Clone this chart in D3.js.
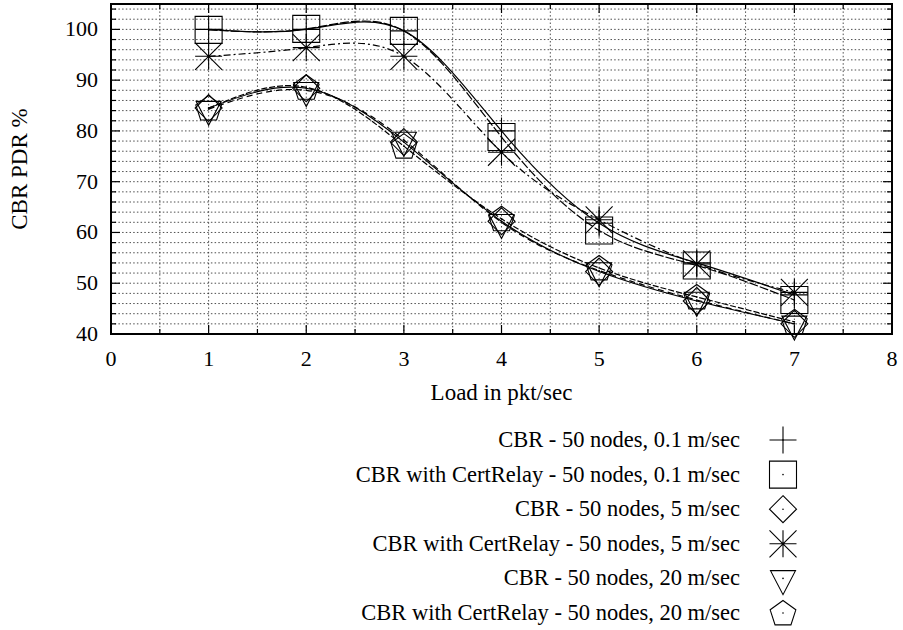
<!DOCTYPE html>
<html lang="en">
<head>
  <meta charset="UTF-8" />
  <title>CBR PDR vs Load</title>
  <style>
    body { margin: 0; background: #fff; }
  </style>
  <script src="https://d3js.org/d3.v7.min.js"></script>
</head>
<body>
  <script>
    // load values (pkt/sec)
    const loads = [1, 2, 3, 4, 5, 6, 7];

    const seriesNames = [
      "CBR - 50 nodes, 0.1 m/sec",
      "CBR with CertRelay - 50 nodes, 0.1 m/sec",
      "CBR - 50 nodes, 5 m/sec",
      "CBR with CertRelay - 50 nodes, 5 m/sec",
      "CBR - 50 nodes, 20 m/sec",
      "CBR with CertRelay - 50 nodes, 20 m/sec"
    ];

    // PDR %
    const cbr01 = [100, 100, 99.7, 80, 61.8, 54, 47.7];
    const cert01 = [99.9, 100.1, 99.7, 78.8, 60.4, 53.5, 46.7];
    const cbr5 = [84.5, 88.4, 77.8, 62.2, 52.3, 46.5, 42];
    const cert5 = [94.7, 96.4, 94.7, 75.8, 62.5, 53.8, 48.2];
    const cbr20 = [84.3, 88, 78.2, 62, 52.5, 46.7, 42];
    const cert20 = [84.5, 88.6, 77, 62.7, 53, 47.3, 42.4];

    const xTicks = [0, 1, 2, 3, 4, 5, 6, 7, 8];
    const yTicks = [40, 50, 60, 70, 80, 90, 100];

    const allSeries = [cbr01, cert01, cbr5, cert5, cbr20, cert20];
    const symbols = ["plus", "square", "diamond", "star", "tridown", "pentagon"];
    const dashes = [null, "9,2", null, "7,3,2,3", "6,4", "6,2"];

    const W = 903, H = 630;
    const plot = { left: 111, right: 892, top: 4, bottom: 334 };
    const FONT = "'Liberation Serif', 'Times New Roman', 'DejaVu Serif', serif";

    const svg = d3.select("body").append("svg")
      .attr("width", W).attr("height", H)
      .attr("font-family", FONT);

    const x = d3.scaleLinear().domain([0, 8]).range([plot.left, plot.right]);
    const y = d3.scaleLinear().domain([40, 105]).range([plot.bottom, plot.top]);

    // grid
    const grid = svg.append("g")
      .attr("stroke", "#222").attr("stroke-width", 0.8)
      .attr("stroke-dasharray", "1.5,2.2");
    d3.range(0.5, 8, 0.5).forEach(v => {
      grid.append("line")
        .attr("x1", x(v)).attr("x2", x(v))
        .attr("y1", plot.top).attr("y2", plot.bottom);
    });
    d3.range(42, 105, 2).forEach(v => {
      grid.append("line")
        .attr("x1", plot.left).attr("x2", plot.right)
        .attr("y1", y(v)).attr("y2", y(v));
    });

    // ticks on all four sides
    const ticks = svg.append("g").attr("stroke", "#000").attr("stroke-width", 1.2);
    d3.range(0, 8.01, 0.5).forEach(v => {
      const len = Number.isInteger(v) ? 9 : 5;
      ticks.append("line").attr("x1", x(v)).attr("x2", x(v))
        .attr("y1", plot.bottom).attr("y2", plot.bottom - len);
      ticks.append("line").attr("x1", x(v)).attr("x2", x(v))
        .attr("y1", plot.top).attr("y2", plot.top + len);
    });
    d3.range(40, 105.01, 2).forEach(v => {
      const len = v % 10 === 0 ? 9 : 5;
      ticks.append("line").attr("y1", y(v)).attr("y2", y(v))
        .attr("x1", plot.left).attr("x2", plot.left + len);
      ticks.append("line").attr("y1", y(v)).attr("y2", y(v))
        .attr("x1", plot.right).attr("x2", plot.right - len);
    });

    // tick labels
    svg.append("g").selectAll("text").data(xTicks).join("text")
      .attr("x", d => x(d)).attr("y", 366)
      .attr("text-anchor", "middle").attr("font-size", 22)
      .text(d => d);
    svg.append("g").selectAll("text").data(yTicks).join("text")
      .attr("x", 98).attr("y", d => y(d) + 7)
      .attr("text-anchor", "end").attr("font-size", 22)
      .text(d => d);

    // axis titles
    svg.append("text")
      .attr("x", (plot.left + plot.right) / 2).attr("y", 400)
      .attr("text-anchor", "middle").attr("font-size", 23)
      .text("Load in pkt/sec");
    svg.append("text")
      .attr("transform", `translate(27,${(plot.top + plot.bottom) / 2}) rotate(-90)`)
      .attr("text-anchor", "middle").attr("font-size", 23)
      .text("CBR PDR %");

    // smoothed curves
    const line = d3.line()
      .x((d, i) => x(loads[i]))
      .y(d => y(d))
      .curve(d3.curveNatural);

    svg.append("g").selectAll("path").data(allSeries).join("path")
      .attr("d", d => line(d))
      .attr("fill", "none").attr("stroke", "#000").attr("stroke-width", 1.2)
      .attr("stroke-dasharray", (d, i) => dashes[i]);

    // symbol drawing
    function symbolPath(type) {
      const s = 13.5;
      const p = d3.path();
      if (type === "plus") {
        p.moveTo(-s, 0); p.lineTo(s, 0); p.moveTo(0, -s); p.lineTo(0, s);
      } else if (type === "square") {
        p.rect(-s, -s, 2 * s, 2 * s);
      } else if (type === "diamond") {
        p.moveTo(0, -s); p.lineTo(s, 0); p.lineTo(0, s); p.lineTo(-s, 0); p.closePath();
      } else if (type === "star") {
        p.moveTo(-s, 0); p.lineTo(s, 0); p.moveTo(0, -s); p.lineTo(0, s);
        p.moveTo(-s, -s); p.lineTo(s, s); p.moveTo(-s, s); p.lineTo(s, -s);
      } else if (type === "tridown") {
        const t = 12.5;
        p.moveTo(-t, -t * 0.62); p.lineTo(t, -t * 0.62); p.lineTo(0, t * 1.3); p.closePath();
      } else if (type === "pentagon") {
        const r = 13.5;
        for (let k = 0; k < 5; k++) {
          const a = -Math.PI / 2 + k * 2 * Math.PI / 5;
          const px = r * Math.cos(a), py = r * Math.sin(a) + 1;
          if (k === 0) p.moveTo(px, py); else p.lineTo(px, py);
        }
        p.closePath();
      }
      return p.toString();
    }

    function drawSymbol(g, type, cx, cy) {
      g.append("path")
        .attr("transform", `translate(${cx},${cy})`)
        .attr("d", symbolPath(type))
        .attr("fill", "none").attr("stroke", "#000").attr("stroke-width", 1.1);
      g.append("circle").attr("cx", cx).attr("cy", cy).attr("r", 0.8).attr("fill", "#000");
    }

    const marks = svg.append("g");
    allSeries.forEach((vals, si) => {
      vals.forEach((v, i) => drawSymbol(marks, symbols[si], x(loads[i]), y(v)));
    });

    // border
    svg.append("rect")
      .attr("x", plot.left).attr("y", plot.top)
      .attr("width", plot.right - plot.left).attr("height", plot.bottom - plot.top)
      .attr("fill", "none").attr("stroke", "#000").attr("stroke-width", 2);

    // legend
    const legend = svg.append("g");
    seriesNames.forEach((name, i) => {
      const ly = 440 + i * 34.6;
      legend.append("text")
        .attr("x", 740).attr("y", ly + 7)
        .attr("text-anchor", "end").attr("font-size", 22.5)
        .text(name);
      drawSymbol(legend, symbols[i], 783, ly);
    });
  </script>
</body>
</html>
